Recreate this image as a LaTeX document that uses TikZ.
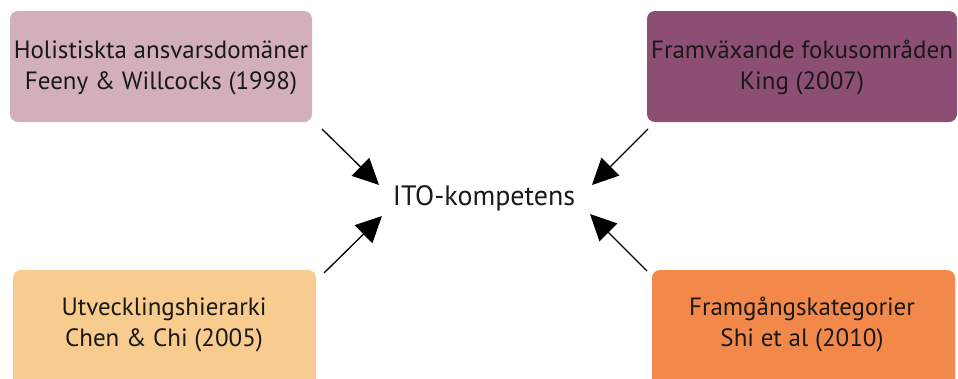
\documentclass[tikz,border=0pt]{standalone}
\usepackage{fontspec}
\setmainfont{PT Sans}
\usetikzlibrary{arrows.meta}
\definecolor{mauve}{HTML}{D3AFBB}
\definecolor{plum}{HTML}{8C4F73}
\definecolor{peach}{HTML}{F8CB8F}
\definecolor{tangerine}{HTML}{F2894B}
\tikzset{
  srcbox/.style={rounded corners=8pt, draw=none},
  boxtext/.style={align=center, font=\fontsize{25}{31}\selectfont, text=black!90},
  feed/.style={line width=1.3pt, -{Triangle[length=26pt,width=25pt]}},
}
\begin{document}
\begin{tikzpicture}[x=1pt,y=-1pt]
  \useasboundingbox (0,0) rectangle (958,378);
  \clip (0,0) rectangle (958,378);
  % four source boxes
  \fill[srcbox, mauve] (10,11) rectangle (312,122);
  \fill[srcbox, plum] (647,11) rectangle (957,122);
  \fill[srcbox, peach] (13,270) rectangle (316,395);
  \fill[srcbox, tangerine] (652,270) rectangle (955,395);
  \node[boxtext] (hol) at (161,68) {Holistiskta ansvarsdomäner\\ Feeny \& Willcocks (1998)};
  \node[boxtext] (fram) at (802,68) {Framväxande fokusområden\\King (2007)};
  \node[boxtext] (utv) at (164,325) {Utvecklingshierarki\\Chen \& Chi (2005)};
  \node[boxtext] (suc) at (802,325) {Framgångskategorier\\Shi et al (2010)};
  % central concept
  \node[font=\fontsize{28}{32}\selectfont, text=black!90] (ito) at (484,198) {ITO-kompetens};
  % arrow end points
  \coordinate (a1) at (322,129); \coordinate (t1) at (379,185);
  \coordinate (a2) at (648,129); \coordinate (t2) at (592,185);
  \coordinate (a3) at (324,273); \coordinate (t3) at (382,216);
  \coordinate (a4) at (647,271); \coordinate (t4) at (590,214);
  \draw[feed] (a1) -- (t1);
  \draw[feed] (a2) -- (t2);
  \draw[feed] (a3) -- (t3);
  \draw[feed] (a4) -- (t4);
\end{tikzpicture}
\end{document}
